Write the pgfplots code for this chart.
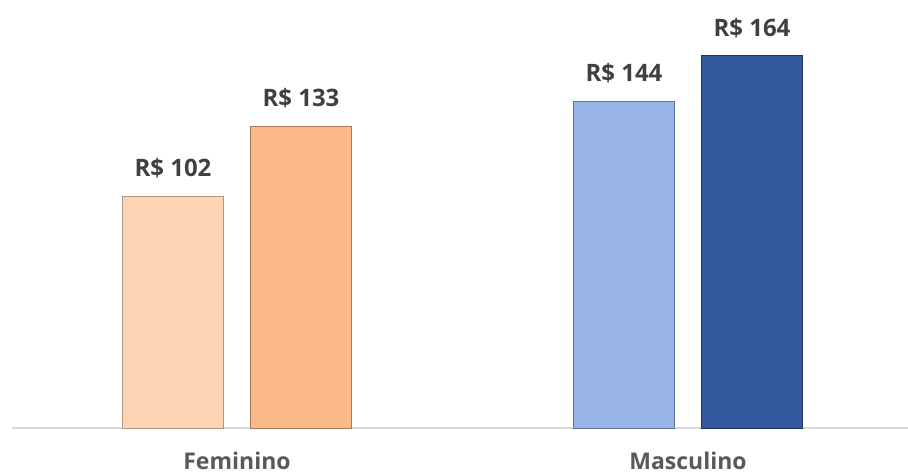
\documentclass[border=0pt]{standalone}
\usepackage{pgfplots}
\pgfplotsset{compat=1.18}
\usepackage{fontspec}
\setmainfont{Open Sans}

\definecolor{femA}{HTML}{FDD5B5}
\definecolor{femB}{HTML}{FCBA8B}
\definecolor{mascA}{HTML}{98B4E6}
\definecolor{mascB}{HTML}{335A9F}
\definecolor{valtext}{HTML}{404040}
\definecolor{cattext}{HTML}{595959}
\definecolor{baseline}{HTML}{D9D9D9}

\begin{document}
\begin{tikzpicture}
\useasboundingbox (0,0) rectangle (908pt,476pt);
\begin{axis}[
    at={(12pt,48pt)}, anchor=south west,
    scale only axis,
    width=896pt, height=428pt,
    xmin=-0.4989, xmax=1.4878,
    ymin=0, ymax=188.5,
    ybar,
    bar width=101pt,
    hide y axis,
    axis x line*=bottom,
    x axis line style={draw=baseline, line width=1.5pt, -},
    xtick={0,1},
    xticklabels={Feminino, Masculino},
    major tick length=0pt,
    /pgf/number format/assume math mode=true,
    xticklabel style={anchor=center, yshift=-33pt, font=\bfseries\fontsize{23}{27}\selectfont, text=cattext},
    nodes near coords={R\$ \pgfmathprintnumber{\pgfplotspointmeta}},
    nodes near coords style={anchor=center, yshift=28pt, font=\bfseries\fontsize{24}{28}\selectfont, text=valtext},
    clip=false,
]
\addplot[fill=femA, draw=femA!70!black, line width=0.6pt, bar shift=-64pt] coordinates {(0,102)};
\addplot[fill=femB, draw=femB!65!black, line width=0.6pt, bar shift=64pt] coordinates {(0,133)};
\addplot[fill=mascA, draw=mascA!65!black, line width=0.6pt, bar shift=-64pt] coordinates {(1,144)};
\addplot[fill=mascB, draw=mascB!60!black, line width=0.6pt, bar shift=64pt] coordinates {(1,164)};
\end{axis}
\end{tikzpicture}
\end{document}
